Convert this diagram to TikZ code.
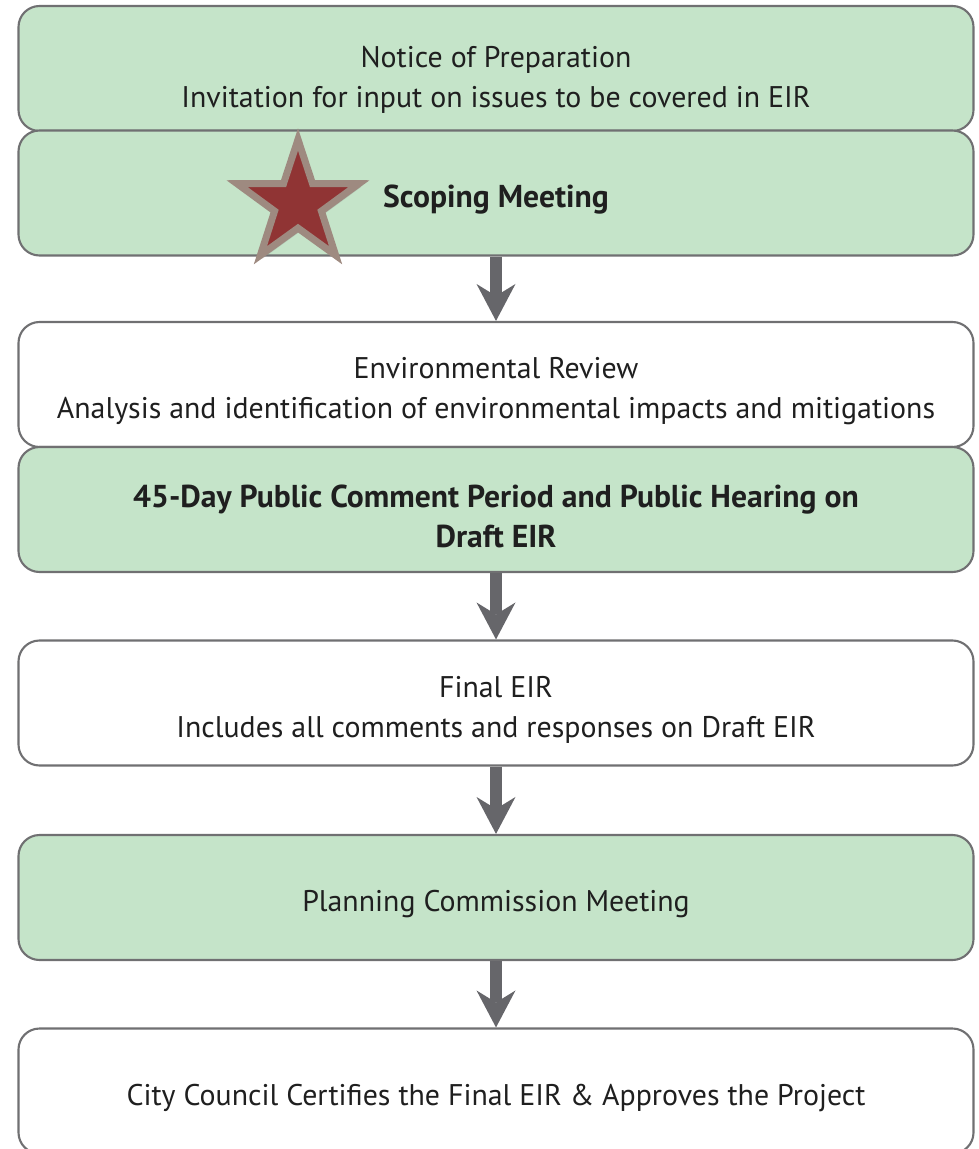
\documentclass[tikz,border=0pt]{standalone}
\usepackage{fontspec}
\setmainfont{PT Sans}
\usetikzlibrary{shapes.geometric,arrows.meta,shadows}
\definecolor{boxgreen}{RGB}{197,228,201}
\definecolor{boxline}{RGB}{112,112,114}
\definecolor{arrowgray}{RGB}{102,102,106}
\definecolor{starred}{RGB}{144,52,52}
\definecolor{starrim}{RGB}{158,138,128}

\begin{document}
\begin{tikzpicture}[
    stage/.style={draw=boxline,line width=1.2pt,rounded corners=0.42cm,
        minimum width=19.1cm,minimum height=2.5cm,inner sep=0pt},
    greenstage/.style={stage,fill=boxgreen},
    whitestage/.style={stage,fill=white},
    stagetext/.style={align=center,yshift=-0.14cm,text=black!88,
        font=\fontsize{17}{22.8}\selectfont},
    boldtext/.style={stagetext,font=\fontsize{18}{22.3}\selectfont\bfseries},
    flow/.style={draw=arrowgray,line width=0.24cm,
        -{Stealth[length=0.74cm,width=0.78cm,inset=0.24cm,line width=0pt]}}]

        % page frame
        \useasboundingbox (0,0) rectangle (19.58,-22.98);

        % the stages, top to bottom
        \node[greenstage,label={[stagetext,yshift=-0.08cm]center:{Notice of Preparation\\
            Invitation for input on issues to be covered in EIR}}]
            (notice) at (9.92,-1.37) {};
        \node[greenstage,label={[boldtext]center:{Scoping Meeting}}]
            (scoping) at (9.92,-3.86) {};
        \node[whitestage,label={[stagetext]center:{Environmental Review\\
            Analysis and identification of environmental impacts and mitigations}}]
            (review) at (9.92,-7.69) {};
        \node[greenstage,label={[boldtext]center:{45-Day Public Comment Period and Public Hearing on\\
            Draft EIR}}]
            (comment) at (9.92,-10.19) {};
        \node[whitestage,label={[stagetext]center:{Final EIR\\
            Includes all comments and responses on Draft EIR}}]
            (final) at (9.92,-14.06) {};
        \node[greenstage,label={[stagetext]center:{Planning Commission Meeting}}]
            (planning) at (9.92,-17.95) {};
        \node[whitestage,label={[stagetext]center:{City Council Certifies the Final EIR \& Approves the Project}}]
            (council) at (9.92,-21.82) {};

        % star on the scoping meeting
        \node[star,star points=5,star point ratio=2.6,minimum size=2.56cm,inner sep=0pt,
            fill=starred,draw=starrim,line width=0.14cm,
            drop shadow={shadow xshift=0.04cm,shadow yshift=-0.07cm,opacity=0.25}]
            (mark) at (5.96,-4.07) {};

        % arrows between the stages
        \draw[flow] (scoping.south) -- (review.north);
        \draw[flow] (comment.south) -- (final.north);
        \draw[flow] (final.south) -- (planning.north);
        \draw[flow] (planning.south) -- (council.north);
\end{tikzpicture}
\end{document}
